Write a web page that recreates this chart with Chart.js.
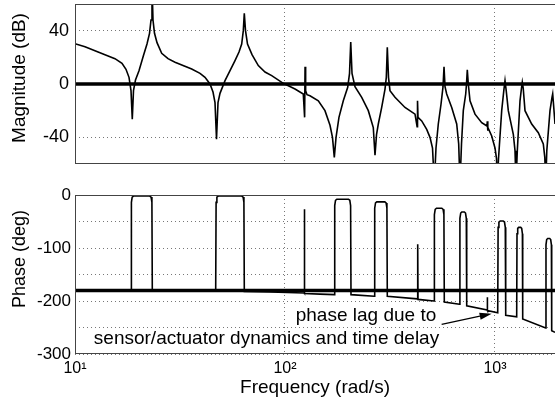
<!DOCTYPE html>
<html><head><meta charset="utf-8">
<script src="https://cdn.jsdelivr.net/npm/chart.js@4.4.1/dist/chart.umd.min.js"></script>
<style>
html,body{margin:0;padding:0;background:#fff;width:555px;height:409px;overflow:hidden}
canvas{position:absolute;left:0}
#mag{top:0}
#ph{top:180px}
</style></head><body>
<canvas id="mag" width="555" height="180"></canvas>
<canvas id="ph" width="555" height="229"></canvas>
<script>
// ---------- data ----------
const magFreq = [
  10, 11.16, 12.45, 13.89, 15.5, 16.74, 17.49, 18.08, 18.48, 18.74,
  18.99, 19.41, 20.17, 21.15, 22.02, 22.64, 23.01, 23.26, 23.52, 23.91,
  24.58, 25.87, 27.73, 29.94, 35.95, 39.38, 41.6, 43.94, 45.41, 46.42,
  47.19, 47.97, 49.03, 51.8, 54.72, 57.8, 60.39, 62.2, 63.31, 64.0,
  64.85, 66.29, 69.65, 74.63, 80.32, 86.44, 98.15, 111.6, 122.2, 124.0,
  124.6, 125.4, 127.3, 131.5, 144.1, 155.0, 163.8, 168.3, 171.7, 175.0,
  180.7, 189.5, 198.9, 202.9, 205.6, 208.5, 215.4, 231.9, 249.3, 263.3,
  268.3, 272.8, 278.2, 288.7, 299.4, 303.7, 307.0, 311.1, 316.2, 334.0,
  372.8, 416.0, 425.7, 427.6, 429.9, 447.7, 472.9, 490.3, 504.0, 514.0,
  523.6, 537.0, 553.4, 565.6, 571.8, 578.1, 588.8, 622.1, 657.1, 671.6,
  681.3, 692.6, 706.4, 725.3, 731.6, 738.1, 746.2, 760.3, 803.2, 864.4,
  916.0, 919.0, 922.1, 926.1, 964.5, 1000, 1016.6, 1025.5, 1039.1, 1076.2,
  1101.3, 1116.0, 1130.8, 1157.1, 1222.3, 1245.3, 1258.9, 1277.0, 1315.4, 1337.2,
  1349.0, 1362.4, 1389.5, 1495.3, 1607.8, 1698.2, 1726.4, 1743.5, 1764.7, 1827.7,
  1868.2, 1882.6, 1899.2, 1930.7, 2039.6
];
const magDb = [
  30.2, 28, 25, 22, 19, 15.5, 11, 5, -5, -26.5,
  -5, 3, 10, 21, 30, 38, 48, 75, 48, 38,
  31, 23, 19, 16.3, 11.3, 8, 5, 0, -6, -14,
  -41.5, -14, -7, 2.5, 10, 17.6, 24, 30, 40, 53,
  40, 30, 22, 13.8, 9, 6.3, 0.5, -3.8, -7.5, -25,
  13, -5, -8, -8.8, -12.6, -20, -31, -40, -55, -40,
  -25, -12.6, -2.5, 8, 31.4, 8, -2, -10, -20, -32.7,
  -53.4, -38, -30, -17.6, -3.8, 5, 27.6, 5, -5, -10,
  -17.6, -22.6, -32, -12.6, -25, -27.7, -34, -40, -48, -75,
  -48, -30, -15, -2, 13, -2, -7.5, -17.6, -30, -45,
  -75, -45, -20, -7.5, 0, 10.6, 0, -12.6, -22.6, -29,
  -31.5, -28, -35, -32.5, -39, -48, -56, -75, -56, -20,
  -5, 2.5, -5, -20, -37.7, -50, -75, -50, -12.6, -3,
  1.3, -3, -20, -30, -36.5, -45, -55, -75, -50, -20,
  -10, -7.4, -15, -30, -38
];
const phaseFreq = [
  10, 18.48, 18.56, 18.72, 18.99, 22.71, 23.03, 23.24, 23.34,
  46.77, 46.98, 47.39, 48.07, 62.28, 63.18, 63.73, 64.01,
  84.83, 123.2, 123.6, 124.1, 146.8,
  171.7, 172.5, 174.0, 176.5, 200.6, 203.5, 205.3, 206.2,
  266.2, 267.4, 269.8, 273.6, 298.7, 303.0, 305.7, 307.0,
  427.1, 428.5, 429.9,
  512.3, 514.5, 519.1, 526.5, 558.1, 566.1, 571.1, 573.6,
  677.6, 680.6, 686.6, 694.9, 715.0, 723.7, 730.1, 733.3,
  917.2, 919.1, 921.2,
  1030.2, 1034.7, 1043.8, 1058.8, 1094.0, 1109.8, 1119.4, 1124.6,
  1268.5, 1272.9, 1282.6, 1296.9, 1325.6, 1340.0, 1350.5, 1354.9,
  1743.1, 1749.1, 1762.5, 1782.3, 1821.8, 1841.6, 1856.1, 1862.1,
  1930.7, 2039.6
];
const phaseDeg = [
  -180, -180, -14, -4, -2, -2, -4, -14, -180,
  -181, -14, -4, -2, -2, -4, -14, -182,
  -183, -185, -27, -186, -187,
  -188, -20, -10, -8, -8, -10, -20, -188,
  -191, -25, -15, -13, -13, -15, -25, -191,
  -196, -93, -197,
  -200, -37, -27, -25, -25, -27, -37, -202,
  -206, -44, -34, -32, -32, -34, -44, -209,
  -217, -193, -218,
  -222, -61, -51, -49, -49, -51, -61, -227,
  -230, -73, -63, -61, -61, -63, -73, -234,
  -251, -94, -84, -82, -82, -84, -94, -256,
  -259, -263
];
const freqRange = [10, 1930.7];
const magRange = [-60, 60];
const phaseRange = [-300, 0];
const magRefLevel = 0;      // thick 0 dB line
const phaseRefLevel = -180; // thick -180 deg line
const freqTicks = [10, 100, 1000];
const freqTickLabels = ['10\u00B9', '10\u00B2', '10\u00B3'];
const magTicks = [-40, 0, 40];
const magTickLabels = ['-40', '0', '40'];
const phaseTicks = [-300, -250, -200, -150, -100, -50, 0];
const phaseTickLabels = ['-300', '', '-200', '', '-100', '', '0'];
const noteText = ['phase lag due to', 'sensor/actuator dynamics and time delay'];
const noteFreq = [243, 81.65];
const noteDeg = [-227.6, -270.7];
const arrowFrom = [557, -244];
const arrowTo = [964, -224];

// ---------- rendering ----------
const FONT = '"Liberation Sans", Arial, Helvetica, sans-serif';
Chart.defaults.font.family = FONT;
Chart.defaults.color = '#000';

function pts(xs, ys) { return xs.map((x, i) => ({x: x, y: ys[i]})); }
function zeroPad(s) { s.paddingTop = 0; s.paddingBottom = 0; s.paddingLeft = 0; s.paddingRight = 0; }

const framePlugin = {
  id: 'frame',
  afterDraw(chart, args, o) {
    const {ctx, chartArea: a} = chart;
    ctx.save();
    ctx.strokeStyle = '#444';
    ctx.lineWidth = 1;
    ctx.strokeRect(a.left + 0.5, a.top + 0.5, a.right - a.left, a.bottom - a.top - 1);
    ctx.translate(o.titleX, o.titleY);
    ctx.rotate(-Math.PI / 2);
    ctx.font = o.titleSize + 'px ' + FONT;
    ctx.fillStyle = '#000';
    ctx.textAlign = 'center';
    ctx.textBaseline = 'middle';
    ctx.fillText(o.title, 0, 0);
    ctx.restore();
  }
};

const notesPlugin = {
  id: 'notes',
  afterDraw(chart) {
    const {ctx, scales: {x, y}} = chart;
    ctx.save();
    ctx.font = '19px ' + FONT;
    ctx.fillStyle = '#000';
    ctx.textAlign = 'center';
    ctx.textBaseline = 'middle';
    noteText.forEach((t, i) => ctx.fillText(t, x.getPixelForValue(noteFreq[i]), y.getPixelForValue(noteDeg[i])));
    const x0 = x.getPixelForValue(arrowFrom[0]), y0 = y.getPixelForValue(arrowFrom[1]);
    const x1 = x.getPixelForValue(arrowTo[0]), y1 = y.getPixelForValue(arrowTo[1]);
    const ang = Math.atan2(y1 - y0, x1 - x0), hl = 12, hw = 3.5;
    const c = Math.cos(ang), s = Math.sin(ang);
    ctx.strokeStyle = '#000';
    ctx.lineWidth = 1.3;
    ctx.beginPath();
    ctx.moveTo(x0, y0);
    ctx.lineTo(x1 - hl * c, y1 - hl * s);
    ctx.stroke();
    ctx.beginPath();
    ctx.moveTo(x1, y1);
    ctx.lineTo(x1 - hl * c + hw * s, y1 - hl * s - hw * c);
    ctx.lineTo(x1 - hl * c - hw * s, y1 - hl * s + hw * c);
    ctx.closePath();
    ctx.fill();
    ctx.restore();
  }
};

function xScale(showLabels) {
  return {
    type: 'logarithmic',
    min: freqRange[0], max: freqRange[1],
    afterBuildTicks: s => { s.ticks = freqTicks.map(v => ({value: v})); },
    afterFit: s => { s.height = showLabels ? 55 : 16; zeroPad(s); },
    grid: {color: '#777', lineWidth: 1, drawTicks: false},
    border: {display: false, dash: [1, 3]},
    ticks: {
      display: showLabels, autoSkip: false, maxRotation: 0, padding: 5,
      font: {size: 16},
      callback: (v, i) => freqTickLabels[i]
    },
    title: {
      display: showLabels, text: 'Frequency (rad/s)',
      font: {size: 19}, padding: {top: 0, bottom: 10}
    }
  };
}

function yScale(range, ticks, labels, size, pad) {
  return {
    type: 'linear',
    min: range[0], max: range[1],
    afterBuildTicks: s => { s.ticks = ticks.map(v => ({value: v})); },
    afterFit: s => { s.width = 75; zeroPad(s); },
    grid: {color: '#777', lineWidth: 1, drawTicks: false},
    border: {display: false, dash: [1, 3]},
    ticks: {autoSkip: false, padding: pad, font: {size: size}, callback: (v, i) => labels[i]}
  };
}

const common = {
  responsive: false,
  animation: false,
  events: [],
  plugins: {legend: {display: false}, tooltip: {enabled: false}},
  elements: {point: {radius: 0}, line: {tension: 0}}
};

new Chart(document.getElementById('mag'), {
  type: 'line',
  data: {
    datasets: [
      {data: pts(magFreq, magDb), borderColor: '#000', borderWidth: 1.6, fill: false},
      {data: pts(freqRange, [magRefLevel, magRefLevel]), borderColor: '#000', borderWidth: 3.5, fill: false}
    ]
  },
  options: Object.assign({}, common, {
    layout: {padding: {top: 4, left: 0, right: 0, bottom: 0}},
    scales: {
      x: xScale(false),
      y: yScale(magRange, magTicks, magTickLabels, 18, 6)
    },
    plugins: Object.assign({}, common.plugins, {
      frame: {title: 'Magnitude (dB)', titleX: 20, titleY: 78, titleSize: 19}
    })
  }),
  plugins: [framePlugin]
});

new Chart(document.getElementById('ph'), {
  type: 'line',
  data: {
    datasets: [
      {data: pts(phaseFreq, phaseDeg), borderColor: '#000', borderWidth: 1.6, fill: false},
      {data: pts(freqRange, [phaseRefLevel, phaseRefLevel]), borderColor: '#000', borderWidth: 3.5, fill: false}
    ]
  },
  options: Object.assign({}, common, {
    layout: {padding: {top: 15, left: 0, right: 0, bottom: 0}},
    scales: {
      x: xScale(true),
      y: yScale(phaseRange, phaseTicks, phaseTickLabels, 17, 4)
    },
    plugins: Object.assign({}, common.plugins, {
      frame: {title: 'Phase (deg)', titleX: 20, titleY: 79, titleSize: 18}
    })
  }),
  plugins: [framePlugin, notesPlugin]
});
</script>
</body></html>
